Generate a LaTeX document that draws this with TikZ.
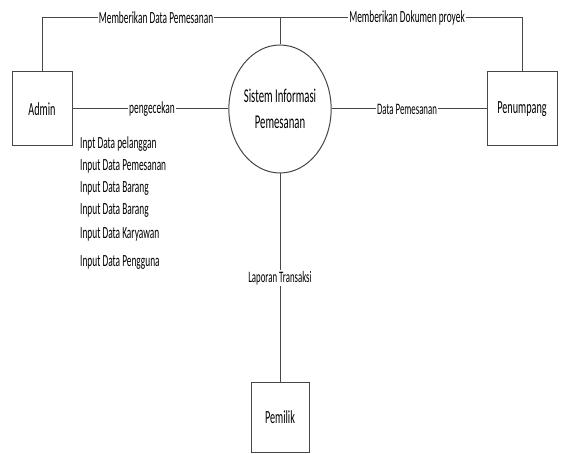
\documentclass[tikz,border=0pt]{standalone}
\usepackage{fontspec}
\setmainfont{Carlito}[FakeStretch=0.55]
\usetikzlibrary{shapes.geometric}
\definecolor{linegray}{HTML}{464646}
\begin{document}
\begin{tikzpicture}[x=1pt,y=-1pt,
  flow/.style={draw=linegray,line width=1pt},
  entity/.style={draw=linegray,line width=1pt,minimum width=60pt,minimum height=74pt,inner sep=0pt,font=\fontsize{18.5}{20}\selectfont},
  process/.style={ellipse,draw=linegray,line width=1pt,minimum width=100pt,minimum height=128pt,inner sep=0pt,align=center,font=\fontsize{19.5}{26}\selectfont},
  flowlabel/.style={fill=white,inner sep=1pt,font=\fontsize{17}{19}\selectfont},
  item/.style={anchor=west,inner sep=0pt,font=\fontsize{17}{19}\selectfont}]
\useasboundingbox (0,0) rectangle (562,454);

% external entities and the central process
\node[entity] (admin) at (42,109) {Admin};
\node[entity,minimum width=70pt] (penumpang) at (522,109) {Penumpang};
\node[entity,minimum width=58pt,minimum height=70pt] (pemilik) at (280,417) {Pemilik};
\node[process] (sistem) at (280,109) {Sistem Informasi\\Pemesanan};

% bends of the top data flows
\coordinate (tl) at (42,18);
\coordinate (tm) at (280,18);
\coordinate (tr) at (522,18);

% data flows
\draw[flow] (admin.north) -- (tl) -- (tr) -- (penumpang.north);
\draw[flow] (tm) -- (sistem.north);
\draw[flow] (admin.east) -- (sistem.west);
\draw[flow] (sistem.east) -- (penumpang.west);
\draw[flow] (sistem.south) -- (pemilik.north);

% flow labels
\node[flowlabel] (l1) at (156,18) {Memberikan Data Pemesanan};
\node[flowlabel] (l2) at (407,18) {Memberikan Dokumen proyek};
\node[flowlabel] (l3) at (152,109) {pengecekan};
\node[flowlabel,font=\fontsize{16}{18}\selectfont] (l4) at (407,109) {Data Pemesanan};
\node[flowlabel,font=\fontsize{16}{18}\selectfont] (l5) at (280,278) {Laporan Transaksi};

% inputs handled by the admin
\node[item] (i1) at (80,144) {Inpt Data pelanggan};
\node[item] (i2) at (80,166) {Input Data Pemesanan};
\node[item] (i3) at (80,189) {Input Data Barang};
\node[item] (i4) at (80,211) {Input Data Barang};
\node[item] (i5) at (80,234) {Input Data Karyawan};
\node[item] (i6) at (80,263) {Input Data Pengguna};
\end{tikzpicture}
\end{document}
